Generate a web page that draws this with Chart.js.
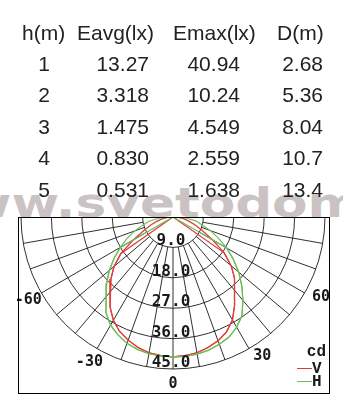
<!DOCTYPE html>
<html>
<head>
<meta charset="utf-8">
<script src="https://cdn.jsdelivr.net/npm/chart.js@4.4.1/dist/chart.umd.min.js"></script>
<style>
  body { margin: 0; width: 343px; height: 410px; overflow: hidden; background: #fff; position: relative; }
  #wm { position: absolute; left: -84px; top: 183px; font: bold 41px/41px "DejaVu Sans", sans-serif; color: #cbc3c3;
        transform: scaleX(1.26); transform-origin: 0 0; white-space: nowrap; z-index: 0; }
  #c { position: absolute; left: 0; top: 0; z-index: 1; }
  #tbl { position: absolute; left: 0; top: 0; width: 343px; height: 210px; z-index: 2;
         font: 21px/21px "Liberation Sans", Arial, sans-serif; color: #222; }
  #tbl div { position: absolute; white-space: nowrap; }
</style>
</head>
<body>
<div id="wm">www.svetodom.ru</div>
<canvas id="c" width="343" height="410"></canvas>
<div id="tbl"></div>
<script>
// table
const HEADERS = ['h(m)', 'Eavg(lx)', 'Emax(lx)', 'D(m)'];
const HEIGHTS = ['1', '2', '3', '4', '5'];
const E_AVG = ['13.27', '3.318', '1.475', '0.830', '0.531'];
const E_MAX = ['40.94', '10.24', '4.549', '2.559', '1.638'];
const DIAM = ['2.68', '5.36', '8.04', '10.7', '13.4'];

// polar curves, cd, angle measured from straight down
const ANGLES = [-90, -85, -80, -75, -70, -65, -60, -55, -50, -45, -40, -35, -30, -25, -20, -15, -10, -5, 0,
  5, 10, 15, 20, 25, 30, 35, 40, 45, 50, 55, 60, 65, 70, 75, 80, 85, 90];
const H_OUTER = [0, 4.3, 7.2, 9.3, 12.0, 15.0, 18.0, 21.3, 24.6, 27.8, 30.8, 34.6, 37.0, 38.5, 39.8, 40.6, 41.1, 41.3, 41.4,
  41.4, 41.2, 40.8, 40.1, 39.2, 37.7, 35.6, 32.2, 28.8, 25.4, 21.8, 18.4, 14.8, 11.8, 8.8, 7.0, 4.2, 0];
const H_INNER = [0, 0, 0, 0, 0, 0, 18.0, 21.3, 24.6, 27.8, 30.8, 34.6, 37.0, 38.5, 39.8, 40.6, 41.1, 41.3, 41.4,
  41.4, 41.2, 40.8, 40.1, 39.2, 37.7, 35.6, 32.2, 28.8, 25.4, 21.8, 18.4, 0, 0, 0, 0, 0, 0];
const V_OUTER = [0, 1.6, 3.3, 5.0, 7.0, 9.5, 13.5, 18.8, 22.8, 26.0, 29.0, 32.5, 35.3, 37.4, 38.8, 40.0, 40.8, 41.2, 41.4,
  41.2, 40.8, 40.0, 39.0, 37.5, 35.2, 31.8, 28.5, 25.6, 22.5, 18.5, 13.5, 9.5, 7.0, 5.0, 3.3, 1.6, 0];
const V_INNER = [0, 0, 0, 0, 0, 0, 0, 18.8, 22.8, 26.0, 29.0, 32.5, 35.3, 37.4, 38.8, 40.0, 40.8, 41.2, 41.4,
  41.2, 40.8, 40.0, 39.0, 37.5, 35.2, 31.8, 28.5, 25.6, 22.5, 18.5, 0, 0, 0, 0, 0, 0, 0];

const RINGS = [9, 18, 27, 36, 45];
const RING_LABELS = ['9.0', '18.0', '27.0', '36.0', '45.0'];
const SPOKES = [-80, -70, -60, -50, -40, -30, -20, -10, 0, 10, 20, 30, 40, 50, 60, 70, 80];
const ANGLE_TICKS = [-60, -30, 0, 30, 60];
const LEGEND_UNIT = 'cd';

const RED = '#e03a3a';
const GREEN = '#6cbd58';

// build table text
const tbl = document.getElementById('tbl');
function cell(text, baseline, left, right) {
  const d = document.createElement('div');
  d.textContent = text;
  d.style.top = (baseline - 18) + 'px';
  if (right != null) { d.style.right = (343 - right) + 'px'; }
  else { d.style.left = left + 'px'; }
  tbl.appendChild(d);
}
const headLeft = [22, 77, 173, 277];
HEADERS.forEach((h, i) => cell(h, 40, headLeft[i]));
HEIGHTS.forEach((h, i) => {
  const b = 70.5 + i * 31.5;
  const d = document.createElement('div');
  d.textContent = h;
  d.style.top = (b - 18) + 'px';
  d.style.left = '28px'; d.style.width = '32px'; d.style.textAlign = 'center';
  tbl.appendChild(d);
  cell(E_AVG[i], b, null, 149);
  cell(E_MAX[i], b, null, 240);
  cell(DIAM[i], b, null, 323);
});

function toXY(values) {
  return ANGLES.map((a, i) => {
    const t = a * Math.PI / 180;
    return { x: values[i] * Math.sin(t), y: -values[i] * Math.cos(t) };
  });
}

const PX_PER_CD = 152 / 45;
const BOX = { left: 18, top: 217, right: 330, bottom: 394 };
const CENTER_X = 173;

const polarGrid = {
  id: 'polarGrid',
  beforeDraw(chart) {
    const { ctx, chartArea: a } = chart;
    ctx.save();
    ctx.fillStyle = '#fff';
    ctx.fillRect(a.left, a.top, a.right - a.left, a.bottom - a.top);
    ctx.restore();
  },
  beforeDatasetsDraw(chart) {
    const { ctx, chartArea: a, scales: { x, y } } = chart;
    const cx = x.getPixelForValue(0), cy = y.getPixelForValue(0);
    const k = x.getPixelForValue(1) - cx;
    ctx.save();
    ctx.beginPath();
    ctx.rect(a.left, a.top, a.right - a.left, a.bottom - a.top);
    ctx.clip();
    ctx.strokeStyle = '#1a1a1a';
    ctx.lineWidth = 0.9;
    RINGS.forEach(r => {
      ctx.beginPath();
      ctx.arc(cx, cy, r * k, 0, Math.PI);
      ctx.stroke();
    });
    const rMin = RINGS[0] * k, rMax = RINGS[RINGS.length - 1] * k;
    SPOKES.forEach(s => {
      const t = s * Math.PI / 180;
      ctx.beginPath();
      ctx.moveTo(cx + rMin * Math.sin(t), cy + rMin * Math.cos(t));
      ctx.lineTo(cx + rMax * Math.sin(t), cy + rMax * Math.cos(t));
      ctx.stroke();
    });
    ctx.restore();
  },
  afterDatasetsDraw(chart) {
    const { ctx, chartArea: a, scales: { x, y } } = chart;
    const cx = x.getPixelForValue(0), cy = y.getPixelForValue(0);
    const k = x.getPixelForValue(1) - cx;
    ctx.save();
    ctx.fillStyle = '#1a1a1a';
    // ring labels
    ctx.font = 'bold 16px "DejaVu Sans Mono", monospace';
    ctx.textAlign = 'center';
    ctx.textBaseline = 'alphabetic';
    RINGS.forEach((r, i) => ctx.fillText(RING_LABELS[i], cx - 2, cy + r * k - 2));
    // angle labels
    ctx.font = 'bold 15px "DejaVu Sans Mono", monospace';
    ctx.textBaseline = 'middle';
    ANGLE_TICKS.forEach(d => {
      const t = d * Math.PI / 180;
      const rr = (d > 0 ? 47.5 : 49.5) * k;
      ctx.textAlign = d > 0 ? 'left' : 'center';
      ctx.fillText(String(d), cx + rr * Math.sin(t), cy + rr * Math.cos(t));
    });
    // legend
    ctx.font = 'bold 16px "Liberation Mono", monospace';
    ctx.textBaseline = 'alphabetic';
    ctx.textAlign = 'right';
    ctx.fillText(LEGEND_UNIT, 326, 356);
    ctx.textAlign = 'left';
    [dsV1, dsH1].forEach((ds, i) => {
      const ly = 368 + i * 13;
      ctx.strokeStyle = ds.borderColor;
      ctx.lineWidth = 1;
      ctx.beginPath();
      ctx.moveTo(297, ly + 0.5);
      ctx.lineTo(312, ly + 0.5);
      ctx.stroke();
      ctx.fillText(ds.label, 312, ly + 5);
    });
    // frame
    ctx.strokeStyle = '#000';
    ctx.lineWidth = 1;
    ctx.strokeRect(a.left + 0.5, a.top + 0.5, a.right - a.left - 1, a.bottom - a.top - 1);
    ctx.restore();
  }
};

const line = (label, data, color) => ({
  label, data: toXY(data), showLine: true, borderColor: color, backgroundColor: color,
  borderWidth: 1.2, pointRadius: 0, tension: 0, fill: false
});

const dsH1 = line('H', H_OUTER, GREEN);
const dsH2 = line('H', H_INNER, GREEN);
const dsV1 = line('V', V_OUTER, RED);
const dsV2 = line('V', V_INNER, RED);

new Chart(document.getElementById('c'), {
  type: 'scatter',
  data: { datasets: [dsH1, dsH2, dsV1, dsV2] },
  options: {
    responsive: false,
    animation: false,
    devicePixelRatio: 1,
    layout: { padding: { left: BOX.left, top: BOX.top, right: 343 - BOX.right, bottom: 410 - BOX.bottom } },
    scales: {
      x: { type: 'linear', display: false, min: -(CENTER_X - BOX.left) / PX_PER_CD, max: (BOX.right - CENTER_X) / PX_PER_CD },
      y: { type: 'linear', display: false, min: -(BOX.bottom - BOX.top) / PX_PER_CD, max: 0 }
    },
    plugins: { legend: { display: false }, tooltip: { enabled: false } }
  },
  plugins: [polarGrid]
});
</script>
</body>
</html>
